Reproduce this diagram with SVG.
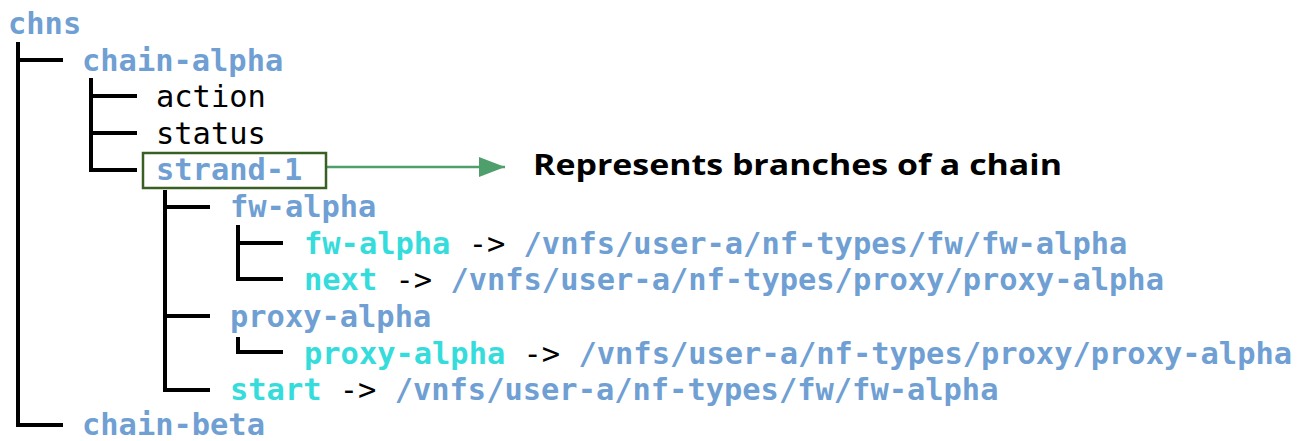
<svg xmlns="http://www.w3.org/2000/svg" width="1301" height="441" viewBox="0 0 1301 441">
<style>
text{font-family:"DejaVu Sans Mono","Liberation Mono",monospace;font-size:30.4px}
.b{fill:#6f9fd3;font-weight:bold}
.c{fill:#35dcdc;font-weight:bold}
.k{fill:#000}
.t{fill:none;stroke:#000;stroke-width:4;stroke-linecap:butt}
.note{font-family:"Open Sans","Liberation Sans",sans-serif;font-weight:bold;font-size:28px;fill:#000}
</style>
<defs>
<marker id="ah2" viewBox="0 0 26 20" refX="26" refY="10" markerWidth="26" markerHeight="20" markerUnits="userSpaceOnUse" orient="auto">
<path d="M0,0 L26,10 L0,20 z" fill="#4f9f6c"/>
</marker>
</defs>
<g id="connectors">
<path class="t" d="M18,42 V427 M16,60 H63 M16,425 H63"/>
<path class="t" d="M91,78 V172 M89,96 H137 M89,133 H137 M89,170 H137"/>
<path class="t" d="M165,190 V392 M163,207 H210 M163,316 H210 M163,390 H210"/>
<path class="t" d="M238,225 V281 M236,243 H283 M236,279 H283"/>
<path class="t" d="M238,337 V354 M236,352 H283"/>
<path d="M326,167 H505" stroke="#4f9f6c" stroke-width="2.5" fill="none" marker-end="url(#ah2)"/>
</g>
<g id="chns"><text class="b" x="8" y="34">chns</text></g>
<g id="chain-alpha"><text class="b" x="82" y="71">chain-alpha</text></g>
<g id="action"><text class="k" x="156" y="107">action</text></g>
<g id="status"><text class="k" x="156" y="144">status</text></g>
<g id="strand-1">
<rect x="143" y="153" width="183" height="35" fill="none" stroke="#3a5f22" stroke-width="2.5"/>
<text class="b" x="156" y="180">strand-1</text>
</g>
<g id="note"><text class="note" x="533" y="175" textLength="529" lengthAdjust="spacingAndGlyphs">Represents branches of a chain</text></g>
<g id="fw-alpha"><text class="b" x="230" y="217">fw-alpha</text></g>
<g id="fw-alpha-link"><text x="304" y="254"><tspan class="c">fw-alpha</tspan><tspan class="k"> -&gt; </tspan><tspan class="b">/vnfs/user-a/nf-types/fw/fw-alpha</tspan></text></g>
<g id="next-link"><text x="304" y="290"><tspan class="c">next</tspan><tspan class="k"> -&gt; </tspan><tspan class="b">/vnfs/user-a/nf-types/proxy/proxy-alpha</tspan></text></g>
<g id="proxy-alpha"><text class="b" x="230" y="327">proxy-alpha</text></g>
<g id="proxy-alpha-link"><text x="304" y="364"><tspan class="c">proxy-alpha</tspan><tspan class="k"> -&gt; </tspan><tspan class="b">/vnfs/user-a/nf-types/proxy/proxy-alpha</tspan></text></g>
<g id="start-link"><text x="230" y="400"><tspan class="c">start</tspan><tspan class="k"> -&gt; </tspan><tspan class="b">/vnfs/user-a/nf-types/fw/fw-alpha</tspan></text></g>
<g id="chain-beta"><text class="b" x="82" y="435">chain-beta</text></g>
</svg>
